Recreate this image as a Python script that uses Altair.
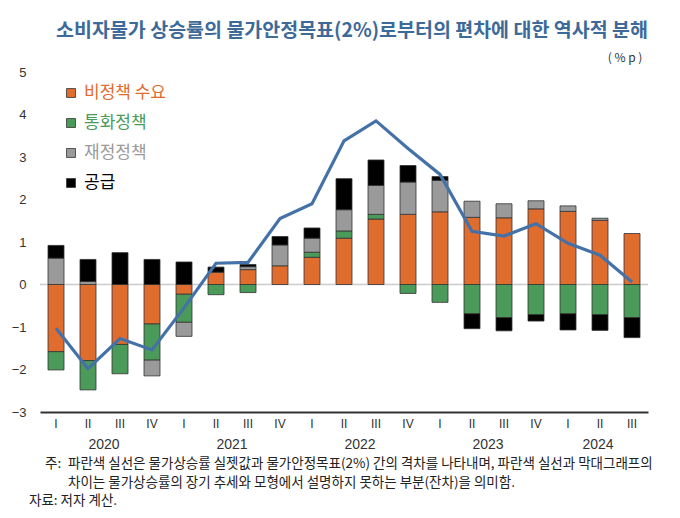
import altair as alt
import pandas as pd

years = ["2020"] * 4 + ["2021"] * 4 + ["2022"] * 4 + ["2023"] * 4 + ["2024"] * 3
quarters = ["I", "II", "III", "IV"] * 4 + ["I", "II", "III"]
keys = [f"{y}-{q}" for y, q in zip(years, quarters)]

nonpolicy = [-1.58, -1.79, -1.41, -0.93, -0.23, 0.29, 0.35, 0.44, 0.64, 1.09, 1.54, 1.65, 1.71, 1.58, 1.57, 1.78, 1.72, 1.51, 1.20]
monetary = [-0.43, -0.69, -0.69, -0.85, -0.66, -0.24, -0.19, 0.00, 0.12, 0.17, 0.11, -0.21, -0.42, -0.69, -0.78, -0.71, -0.69, -0.71, -0.78]
fiscal = [0.62, 0.07, 0.00, -0.37, -0.33, 0.00, 0.07, 0.49, 0.33, 0.50, 0.68, 0.76, 0.74, 0.38, 0.33, 0.19, 0.13, 0.05, 0.00]
supply = [0.30, 0.52, 0.75, 0.59, 0.53, 0.12, 0.05, 0.20, 0.24, 0.73, 0.60, 0.39, 0.09, -0.35, -0.31, -0.15, -0.38, -0.37, -0.47]
deviation = [-1.03, -1.98, -1.27, -1.54, -0.55, 0.50, 0.52, 1.55, 1.90, 3.38, 3.85, 3.20, 2.59, 1.25, 1.14, 1.43, 0.97, 0.69, 0.06]

series_names = ["비정책 수요", "통화정책", "재정정책", "공급"]
series_colors = ["#E06C2E", "#4A9A5A", "#9A9A9A", "#000000"]
series_values = [nonpolicy, monetary, fiscal, supply]

year_labels = ["2020", "2021", "2022", "2023", "2024"]
year_anchor = ["2020-II", "2021-II", "2022-II", "2023-II", "2024-II"]

title_text = "소비자물가 상승률의 물가안정목표(2%)로부터의 편차에 대한 역사적 분해"
unit_text = "( % p )"
note1 = "주:"
note2 = "파란색 실선은 물가상승률 실젯값과 물가안정목표(2%) 간의 격차를 나타내며, 파란색 실선과 막대그래프의"
note3 = "차이는 물가상승률의 장기 추세와 모형에서 설명하지 못하는 부분(잔차)을 의미함."
note4 = "자료: 저자 계산."

rows = []
for i, (name, vals) in enumerate(zip(series_names, series_values)):
    for k, v in zip(keys, vals):
        rows.append({"key": k, "series": name, "value": v, "ord": i})
bar_df = pd.DataFrame(rows)
line_df = pd.DataFrame({"key": keys, "value": deviation})
year_df = pd.DataFrame({"year": year_labels, "anchor": year_anchor})

KFONT = "Noto Sans CJK KR"
NFONT = "Liberation Sans"

xscale = alt.Scale(domain=keys, paddingInner=0.5, paddingOuter=0.25)
yscale = alt.Scale(domain=[-3, 5], nice=False, zero=False)

x_enc = alt.X("key:N", scale=xscale, sort=keys,
              axis=alt.Axis(title=None, labelExpr="split(datum.label, '-')[1]", ticks=False,
                            domainColor="#333333", domainWidth=2, labelPadding=6,
                            labelFontSize=12, labelAngle=0, labelFont=NFONT,
                            labelColor="#333333", grid=False))
y_enc = alt.Y("value:Q", scale=yscale,
              axis=alt.Axis(title=None, values=list(range(-3, 6)), ticks=False, domain=False,
                            grid=False, labelPadding=14, labelFontSize=13, labelFont=NFONT,
                            labelColor="#333333"))

zero_rule = alt.Chart(pd.DataFrame({"value": [0]})).mark_rule(
    color="#cccccc", strokeWidth=1.5).encode(y=alt.Y("value:Q", scale=yscale))

bars = alt.Chart(bar_df).transform_filter("datum.value != 0").mark_bar(
    stroke="#333333", strokeWidth=0.8).encode(
    x=x_enc,
    y=y_enc,
    color=alt.Color("series:N", scale=alt.Scale(domain=series_names, range=series_colors), legend=None),
    order=alt.Order("ord:Q"),
)

line = alt.Chart(line_df).mark_line(color="#4472A8", strokeWidth=3.2).encode(
    x=alt.X("key:N", scale=xscale, sort=keys),
    y=alt.Y("value:Q", scale=yscale),
)

year_main = alt.Chart(year_df).transform_filter("datum.year != '2024'").mark_text(
    dx=16, fontSize=14, font=NFONT, color="#333333", baseline="middle").encode(
    x=alt.X("anchor:N", scale=xscale, sort=keys),
    y=alt.value(373),
    text="year:N",
)
year_last = alt.Chart(year_df).transform_filter("datum.year == '2024'").mark_text(
    dx=-2, fontSize=14, font=NFONT, color="#333333", baseline="middle").encode(
    x=alt.X("anchor:N", scale=xscale, sort=keys),
    y=alt.value(373),
    text="year:N",
)

one = pd.DataFrame({"a": [0]})
legend_layers = []
for i, (name, col) in enumerate(zip(series_names, series_colors)):
    ypix = 21 + i * 30
    sq = alt.Chart(one).mark_square(size=80, fill=col, stroke="#333333", strokeWidth=0.8, opacity=1).encode(
        x=alt.value(31), y=alt.value(ypix))
    tx = alt.Chart(one).mark_text(align="left", baseline="middle", fontSize=17, font=KFONT,
                                  color=col).encode(
        x=alt.value(44), y=alt.value(ypix), text=alt.value(name))
    legend_layers += [sq, tx]

def label(txt, x, y, size, color="#222222", align="left", weight="normal", font=KFONT):
    return alt.Chart(one).mark_text(align=align, baseline="middle", fontSize=size, font=font,
                                    color=color, fontWeight=weight).encode(
        x=alt.value(x), y=alt.value(y), text=alt.value(txt))

texts = [
    label(title_text, 312, -41, 19.5, color="#3D6A98", align="center", weight="bold"),
    label(unit_text, 585, -14, 12, color="#333333", align="center"),
    label(note1, 5, 392, 13.5),
    label(note2, 28, 392, 13.5),
    label(note3, 28, 411, 13.5),
    label(note4, -11, 429, 13.5),
]

chart = alt.layer(zero_rule, bars, line, year_main, year_last, *legend_layers, *texts).properties(
    width=608, height=340,
    autosize=alt.AutoSizeParams(type="none"),
    padding={"left": 32, "top": 64, "right": 24, "bottom": 98},
).configure_view(stroke=None)

chart.save("out.html", embed_options={"renderer": "svg", "actions": False})
